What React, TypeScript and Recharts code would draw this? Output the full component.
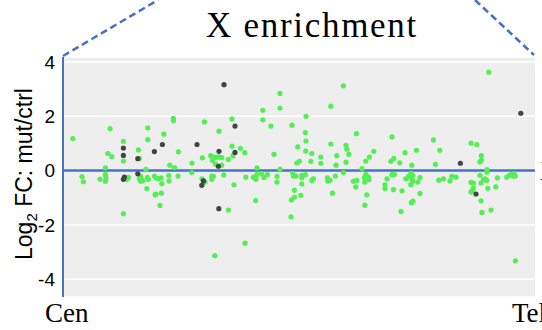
import React from 'react';
import {
  ScatterChart,
  Scatter,
  XAxis,
  YAxis,
  CartesianGrid,
  ReferenceLine,
} from 'recharts';

// chromosome arm length (Mb) and axis ticks
const chromLength = 23.6;
const yTicks = [-4, -2, 0, 2, 4];
const endLabels = ['Cen', 'Tel'];

// genes without a dosage-compensation site (green)
const greenPos = [
  0.49, 2.35, 4.24, 4.24, 3.02, 3.77, 2.24, 2.44, 3.82, 3.02, 2.12, 4.15, 0.95, 1.02, 1.85, 2.12,
  2.15, 2.12, 3.27, 3.19, 3.89, 3.82, 3.89, 3.99, 4.22, 4.27, 4.57, 4.65, 4.77, 4.19, 4.6, 4.65,
  4.85, 3.02, 5.52, 5.52, 5.04, 7.07, 8.45, 7.8, 5.77, 8.45, 8.87, 9.09, 8.5, 6.97, 7.39, 7.47,
  7.6, 7.72, 7.8, 7.94, 8.27, 7.62, 7.94, 6.45, 5.34, 5.57, 6.44, 4.9, 5.29, 5.3, 5.75, 4.94,
  4.92, 6.95, 7.1, 7.44, 7.52, 7.44, 8.04, 8.55, 9.14, 9.52, 8.27, 9.1, 7.59, 9.63, 14.02, 10.85,
  9.99, 10.85, 13.39, 12.15, 9.99, 10.4, 11.45, 12.12, 12.15, 13.39, 11.74, 12.14, 12.44, 12.89,
  10.55, 14.15, 14.19, 13.69, 14.29, 11.82, 11.69, 12.39, 12.89, 13.65, 14.15, 9.7, 10.85, 14.02,
  9.7, 9.65, 9.92, 10.05, 10.22, 10.7, 10.7, 11.49, 11.52, 11.65, 11.94, 11.94, 12.12, 11.94,
  12.52, 12.44, 13.22, 13.35, 13.24, 13.62, 11.57, 11.57, 11.42, 11.89, 13.47, 11.4, 14.67,
  16.45, 18.52, 15.54, 15.32, 15.14, 16.54, 16.39, 16.84, 17.1, 17.67, 18.84, 17.44, 18.62,
  14.95, 14.52, 14.69, 14.64, 15.07, 15.15, 15.27, 15.3, 15.09, 15.19, 15.09, 16.2, 16.1, 16.1,
  16.45, 16.57, 16.52, 16.95, 17.14, 17.27, 17.4, 17.49, 17.44, 17.39, 17.49, 17.85, 17.74,
  17.85, 17.5, 17.42, 16.9, 18.79, 19.02, 21.29, 20.4, 20.69, 20.92, 20.85, 20.92, 21.2, 21.2,
  20.85, 21.1, 21.19, 21.02, 21.72, 22.19, 22.32, 22.44, 22.55, 22.62, 22.49, 19.44, 19.65,
  19.35, 20.4, 20.52, 20.52, 20.47, 20.4, 20.9, 21.24, 21.64, 20.9, 20.95, 21.4, 22.62,
];
const greenFC = [
  1.18, 1.55, 1.57, 1.14, 1.08, 0.76, 0.63, 0.52, 0.45, 0.35, 0.1, 0.05, -0.22, -0.41, -0.32, -0.14,
  -0.27, -0.39, -0.25, -0.32, -0.21, -0.3, -0.39, -0.37, -0.25, -0.32, -0.2, -0.27, -0.3, -0.66,
  -0.89, -0.86, -1.28, -1.59, 1.92, 1.84, 1.34, 1.79, 1.9, 1.45, 0.69, 0.9, 0.82, 0.66, 0.55,
  0.47, 0.55, 0.38, 0.49, 0.5, 0.5, 0.48, 0.41, 0.24, 0.2, 0.28, 0.2, 0.11, -0.07, -0.27, -0.18,
  -0.38, -0.2, -0.48, -0.83, -0.3, -0.42, -0.2, -0.21, -0.32, -0.16, -0.52, -0.24, -0.24, -1.45,
  -2.67, -3.13, -1.1, 3.12, 2.84, 2.22, 2.3, 2.37, 2.0, 1.87, 1.64, 1.67, 1.4, 1.09, 0.98, 0.87,
  0.72, 0.63, 0.5, 0.6, 0.93, 0.79, 0.55, 0.6, 0.34, 0.28, 0.34, 0.27, 0.2, 0.31, 0.1, 0.05,
  -0.07, -0.14, -0.32, -0.11, -0.25, -0.15, -0.21, -0.42, -0.1, -0.2, -0.2, -0.17, -0.26, -0.15,
  -0.49, -0.3, -0.36, -0.27, -0.35, -0.39, -0.2, -0.72, -0.98, -1.08, -0.91, -0.83, -1.7, 1.36,
  1.24, 1.13, 0.71, 0.5, 0.35, 0.45, 0.34, 0.29, 0.66, 0.75, 0.75, 0.2, 0.23, 0.07, -0.39, -0.36,
  -0.6, -0.25, -0.15, -0.24, -0.33, -0.42, -0.89, -1.27, -0.3, -0.52, -0.66, -0.15, -0.14, -0.7,
  -0.74, -0.3, -0.21, -0.09, -0.17, -0.32, -0.52, -0.39, -0.26, -0.42, -0.84, -1.12, -1.18, -1.5,
  -0.35, -0.3, 3.62, 1.01, 0.96, 0.55, 0.32, 0.38, 0.04, -0.06, -0.17, -0.3, -0.36, -0.33, -0.27,
  -0.24, -0.17, -0.14, -0.11, -0.2, -0.2, -0.21, -0.24, -0.38, -0.43, -0.46, -0.64, -0.73, -0.79,
  -0.46, -0.65, -0.6, -1.11, -1.54, -1.45, -3.32,
];

// genes near a binding site (dark)
const darkPos = [
  3.02, 3.02, 3.74, 4.57, 3.07, 3.02, 3.74, 4.97, 8.05, 8.6, 6.7, 7.8, 8.6, 7.77, 7.02, 6.94, 7.79,
  22.89, 19.87, 20.65,
];
const darkFC = [
  0.83, 0.56, 0.44, 0.7, -0.24, -0.32, -0.12, 0.96, 3.16, 1.64, 0.96, 0.71, 0.67, 0.16, -0.38,
  -0.54, -1.4, 2.11, 0.27, -0.86,
];

const greenData = greenPos.map((x, i) => ({ x, y: greenFC[i] }));
const darkData = darkPos.map((x, i) => ({ x, y: darkFC[i] }));

const BLUE = '#4472C4';
const SERIF = '"Liberation Serif", "Times New Roman", serif';
const SANS = '"Liberation Sans", Arial, sans-serif';

const Dot = (color: string) => (props: any) => (
  <circle cx={props.cx} cy={props.cy} r={2.6} fill={color} />
);

const EndTick = (props: any) => {
  const { x, y, payload } = props;
  const isStart = payload.value === 0;
  return (
    <text
      x={x}
      y={y}
      dx={isStart ? -18 : -23}
      dy={17}
      textAnchor="start"
      fontFamily={SERIF}
      fontSize={27}
      fill="#000"
    >
      {isStart ? endLabels[0] : endLabels[1]}
    </text>
  );
};

export default function App() {
  return (
    <div style={{ position: 'absolute', left: 0, top: 0, width: 542, height: 330 }}>
      <ScatterChart width={542} height={330} margin={{ top: 57, right: 7, bottom: 0, left: 0 }}>
        <CartesianGrid fill="#eeeeee" vertical={false} stroke="#ffffff" strokeWidth={1.5} />
        <XAxis
          type="number"
          dataKey="x"
          domain={[0, chromLength]}
          ticks={[0, chromLength]}
          interval={0}
          height={33}
          axisLine={false}
          tickLine={false}
          tick={<EndTick />}
        />
        <YAxis
          type="number"
          dataKey="y"
          domain={[-4.65, 4.18]}
          ticks={yTicks}
          allowDataOverflow
          width={63}
          tickLine={false}
          axisLine={{ stroke: BLUE, strokeWidth: 2 }}
          tick={{ fontSize: 19, fill: '#000', fontFamily: SANS }}
        />
        <ReferenceLine
          y={0}
          stroke={BLUE}
          strokeWidth={2.5}
          label={{ value: 'X', position: 'right', offset: 5, fill: '#000', fontSize: 27, fontFamily: SERIF }}
        />
        <Scatter data={greenData} shape={Dot('#52f052')} isAnimationActive={false} />
        <Scatter data={darkData} shape={Dot('#444444')} isAnimationActive={false} />
      </ScatterChart>
      <svg
        width={542}
        height={330}
        style={{ position: 'absolute', left: 0, top: 0, pointerEvents: 'none' }}
      >
        <line x1={63} y1={56} x2={158} y2={0} stroke={BLUE} strokeWidth={2.5} strokeDasharray="7 4" />
        <line x1={475} y1={0} x2={534} y2={55} stroke={BLUE} strokeWidth={2.5} strokeDasharray="7 4" />
        <text x={312} y={37} textAnchor="middle" fontFamily={SERIF} fontSize={35} letterSpacing={1.7} fill="#000">
          X enrichment
        </text>
        <text
          transform="translate(32,174) rotate(-90)"
          textAnchor="middle"
          fontFamily={SANS}
          fontSize={23}
          fill="#000"
        >
          Log
          <tspan fontSize={15} dy={5}>2</tspan>
          <tspan dy={-5}> FC: mut/ctrl</tspan>
        </text>
      </svg>
    </div>
  );
}
